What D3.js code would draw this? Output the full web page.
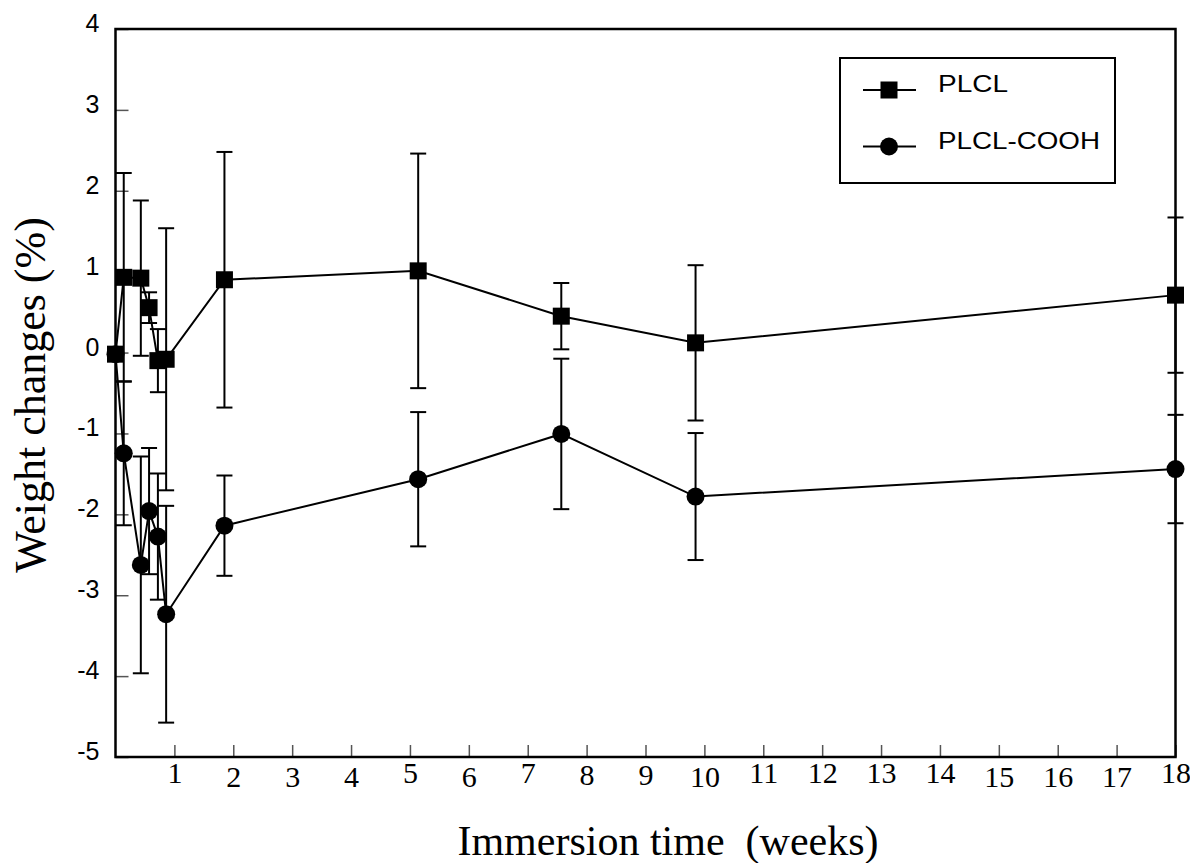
<!DOCTYPE html>
<html>
<head>
<meta charset="utf-8">
<script src="https://cdn.jsdelivr.net/npm/d3@7/dist/d3.min.js"></script>
<style>
  html, body { margin: 0; padding: 0; background: #fff; }
  svg { display: block; }
</style>
</head>
<body>
<div id="chart"></div>
<script>
// immersion time in weeks (first points are days 0,1,3,4,5,6)
const weeks = [0, 0.14, 0.43, 0.57, 0.72, 0.86, 1.85, 5.14, 7.57, 9.85, 18];

// weight change (%) and error (+/-)
const plcl = [-0.02, 0.93, 0.92, 0.555, -0.1, -0.083, 0.9, 1.01, 0.45, 0.12, 0.71];
const plclErr = [0, 1.29, 0.96, 0.19, 0.39, 1.62, 1.58, 1.45, 0.41, 0.96, 0.96];
const cooh = [-0.02, -1.245, -2.625, -1.96, -2.275, -3.235, -2.14, -1.566, -1.006, -1.78, -1.44];
const coohErr = [0, 0.89, 1.34, 0.78, 0.78, 1.34, 0.62, 0.83, 0.93, 0.785, 0.67];

const xTicks = d3.range(1, 19);
const yTicks = d3.range(-5, 5);
const seriesNames = ["PLCL", "PLCL-COOH"];

// small vertical wobble of the x tick labels in the original
const xLabelNudge = [0, 4, 4, 4, 0, 4, 0, 2, 2, 4, 0, 0, 0, 0, 4, 4, 4, 0];

const width = 1190;
const height = 863;

const x = d3.scaleLinear().domain([0, 18]).range([115.5, 1175.5]);
const y = d3.scaleLinear().domain([-5, 4]).range([757, 29]);

const svg = d3
  .select("#chart")
  .append("svg")
  .attr("width", width)
  .attr("height", height);

svg.append("rect").attr("width", width).attr("height", height).attr("fill", "#fff");

// x axis ticks (inside, pointing up)
const xAxis = svg
  .append("g")
  .attr("transform", `translate(0,${y(-5)})`)
  .call(
    d3
      .axisBottom(x)
      .tickValues(xTicks)
      .tickFormat((d) => String(d))
      .tickSizeInner(-12)
      .tickSizeOuter(0)
  );
xAxis.select(".domain").remove();
xAxis.selectAll(".tick line").attr("stroke", "#555").attr("stroke-width", 1.5);
xAxis
  .selectAll(".tick text")
  .attr("y", (d, i) => 26 + xLabelNudge[i])
  .attr("dy", null)
  .attr("fill", "#000")
  .attr("font-family", "'Liberation Serif', 'Times New Roman', serif")
  .attr("font-size", 30);

// y axis ticks (inside, pointing right)
const yAxis = svg
  .append("g")
  .attr("transform", `translate(${x(0)},0)`)
  .call(
    d3
      .axisLeft(y)
      .tickValues(yTicks)
      .tickFormat((d) => String(d))
      .tickSizeInner(-13)
      .tickSizeOuter(0)
      .tickPadding(16)
  );
yAxis.select(".domain").remove();
yAxis.selectAll(".tick line").attr("stroke", "#555").attr("stroke-width", 1.5);
yAxis
  .selectAll(".tick text")
  .attr("dy", "0.1em")
  .attr("fill", "#000")
  .attr("font-family", "'Liberation Sans', Arial, sans-serif")
  .attr("font-size", 25);

// frame
svg
  .append("rect")
  .attr("x", x(0))
  .attr("y", y(4))
  .attr("width", x(18) - x(0))
  .attr("height", y(-5) - y(4))
  .attr("fill", "none")
  .attr("stroke", "#000")
  .attr("stroke-width", 2.5);

function buildSeries(values, errors) {
  return weeks.map((w, i) => ({ w, v: values[i], e: errors[i] }));
}

const series = [
  { name: seriesNames[1], shape: "circle", points: buildSeries(cooh, coohErr) },
  { name: seriesNames[0], shape: "square", points: buildSeries(plcl, plclErr) },
];

const capHalf = 8;
const markerSize = 17;

function drawMarker(g, shape, cx, cy) {
  if (shape === "square") {
    g.append("rect")
      .attr("x", cx - markerSize / 2)
      .attr("y", cy - markerSize / 2)
      .attr("width", markerSize)
      .attr("height", markerSize)
      .attr("fill", "#000");
  } else {
    g.append("circle").attr("cx", cx).attr("cy", cy).attr("r", markerSize / 2 + 0.5).attr("fill", "#000");
  }
}

// error bars first
const errGroup = svg.append("g").attr("stroke", "#000").attr("stroke-width", 2);
series.forEach((s) => {
  s.points
    .filter((p) => p.e > 0)
    .forEach((p) => {
      const cx = x(p.w);
      const top = y(p.v + p.e);
      const bot = y(p.v - p.e);
      errGroup.append("line").attr("x1", cx).attr("x2", cx).attr("y1", top).attr("y2", bot);
      errGroup.append("line").attr("x1", cx - capHalf).attr("x2", cx + capHalf).attr("y1", top).attr("y2", top);
      errGroup.append("line").attr("x1", cx - capHalf).attr("x2", cx + capHalf).attr("y1", bot).attr("y2", bot);
    });
});

const line = d3
  .line()
  .x((d) => x(d.w))
  .y((d) => y(d.v));

series.forEach((s) => {
  svg
    .append("path")
    .datum(s.points)
    .attr("d", line)
    .attr("fill", "none")
    .attr("stroke", "#000")
    .attr("stroke-width", 2);
});

series.forEach((s) => {
  const g = svg.append("g");
  s.points.forEach((p) => drawMarker(g, s.shape, x(p.w), y(p.v)));
});

// legend
const legend = svg.append("g");
legend
  .append("rect")
  .attr("x", 840)
  .attr("y", 58)
  .attr("width", 275)
  .attr("height", 125)
  .attr("fill", "#fff")
  .attr("stroke", "#000")
  .attr("stroke-width", 2);

const legendRows = [
  { name: seriesNames[0], shape: "square", y: 90, len: 70 },
  { name: seriesNames[1], shape: "circle", y: 146.5, len: 162 },
];
legendRows.forEach((r) => {
  legend
    .append("line")
    .attr("x1", 863)
    .attr("x2", 916)
    .attr("y1", r.y)
    .attr("y2", r.y)
    .attr("stroke", "#000")
    .attr("stroke-width", 2);
  drawMarker(legend, r.shape, 889, r.y);
  legend
    .append("text")
    .attr("x", 938)
    .attr("y", r.y + 2)
    .attr("textLength", r.len)
    .attr("lengthAdjust", "spacingAndGlyphs")
    .style("font-family", "'Liberation Sans', Arial, sans-serif")
    .style("font-size", "24px")
    .text(r.name);
});

// axis titles
svg
  .append("text")
  .attr("x", 668)
  .attr("y", 855)
  .attr("text-anchor", "middle")
  .style("white-space", "pre")
  .style("font-family", "'Liberation Serif', 'Times New Roman', serif")
  .style("font-size", "42px")
  .text("Immersion time  (weeks)");

svg
  .append("text")
  .attr("transform", "translate(45,395) rotate(-90)")
  .attr("text-anchor", "middle")
  .style("font-family", "'Liberation Serif', 'Times New Roman', serif")
  .style("font-size", "44px")
  .text("Weight changes (%)");
</script>
</body>
</html>
